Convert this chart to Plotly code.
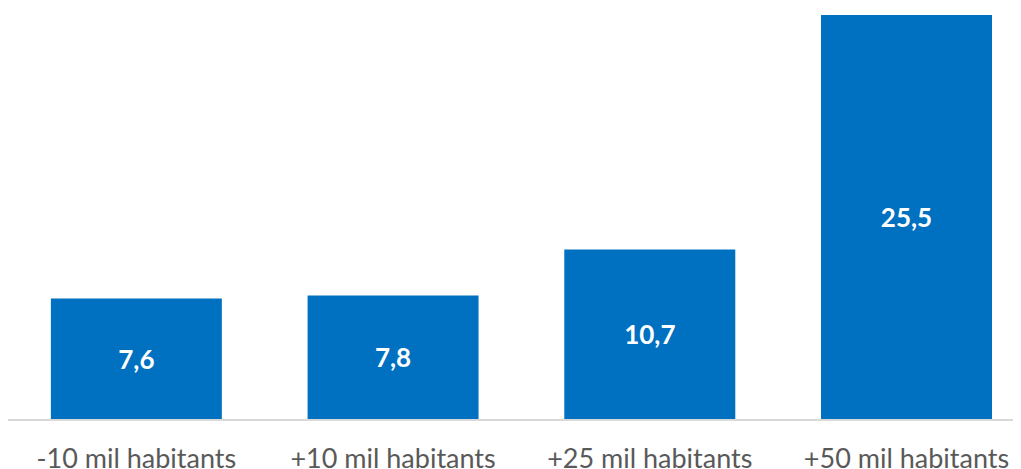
import plotly.graph_objects as go

categories = ["-10 mil habitants", "+10 mil habitants", "+25 mil habitants", "+50 mil habitants"]
values = [7.6, 7.8, 10.7, 25.5]
labels = ["7,6", "7,8", "10,7", "25,5"]

fig = go.Figure(go.Bar(
    x=categories, y=values, text=labels,
    marker=dict(color="#0070C0", line=dict(width=0)),
    width=0.666,
    textposition="inside", insidetextanchor="middle",
    textfont=dict(family="Lato", size=26, color="white", weight="bold"),
    textangle=0,
    cliponaxis=False,
))

# page body has an 8px margin, so the figure is sized to fit the window exactly
fig.update_layout(
    width=1013, height=461,
    margin=dict(l=0, r=0, t=0, b=50),
    paper_bgcolor="white", plot_bgcolor="white",
    showlegend=False,
)
fig.update_xaxes(
    type="category", range=[-0.5, 3.446],
    automargin=False,
    showline=True, linecolor="#D9D9D9", linewidth=1.5,
    showgrid=False, ticks="",
    tickfont=dict(family="Lato", size=27, color="#595959"),
    ticklabelstandoff=15,
)
fig.update_yaxes(range=[0, 25.94], visible=False, showgrid=False, zeroline=False, automargin=False)

fig.write_html("out.html")
